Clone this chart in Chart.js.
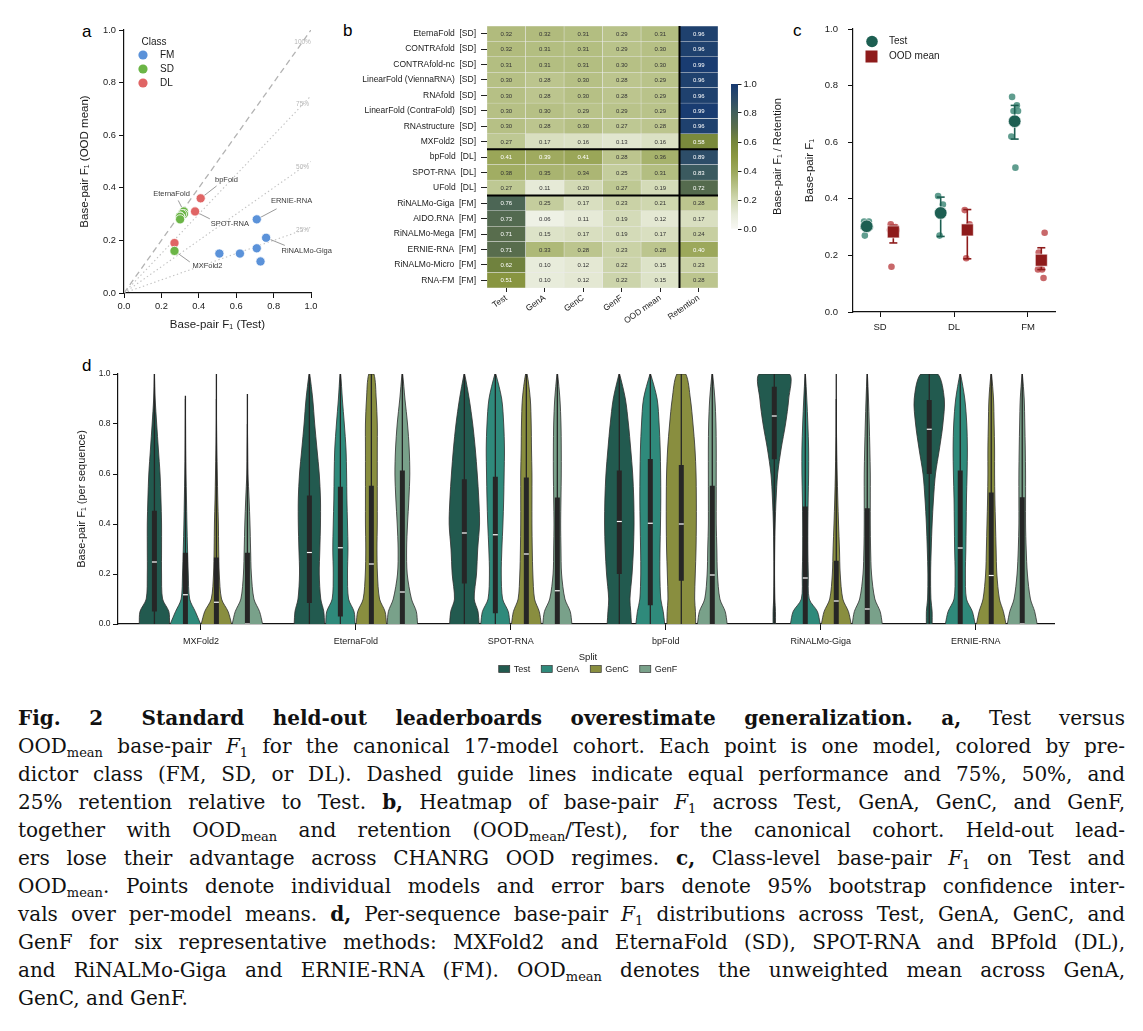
<!DOCTYPE html>
<html>
<head>
<meta charset="utf-8">
<title>Fig. 2</title>
<script src="https://cdn.jsdelivr.net/npm/chart.js@4.4.1/dist/chart.umd.min.js"></script>
<style>
  html, body { margin: 0; padding: 0; background: #fff; }
  body { position: relative; width: 1143px; height: 1031px; overflow: hidden; font-family: 'Liberation Sans', Arial, sans-serif; }
  canvas { position: absolute; }
  .tag { position: absolute; font-size: 17px; line-height: 17px; color: #000; }
  #caption { position: absolute; left: 18px; top: 704px; width: 1107px; font-family: 'DejaVu Serif', 'Liberation Serif', serif; font-size: 20px; line-height: 28px; color: #111; }
  #caption div { text-align: justify; text-align-last: justify; }
  #caption div.last { text-align-last: left; }
  #caption sub { font-size: 13px; line-height: 0; vertical-align: -4px; }
</style>
</head>
<body>
<div class="tag" style="left:82px;top:23px">a</div>
<div class="tag" style="left:343px;top:22px">b</div>
<div class="tag" style="left:793px;top:22px">c</div>
<div class="tag" style="left:82px;top:357px">d</div>

<div id="caption">
<div><b>Fig. 2&ensp; Standard held-out leaderboards overestimate generalization. a,</b> Test versus</div>
<div>OOD<sub>mean</sub> base-pair <i>F</i><sub>1</sub> for the canonical 17-model cohort. Each point is one model, colored by pre-</div>
<div>dictor class (FM, SD, or DL). Dashed guide lines indicate equal performance and 75%, 50%, and</div>
<div>25% retention relative to Test. <b>b,</b> Heatmap of base-pair <i>F</i><sub>1</sub> across Test, GenA, GenC, and GenF,</div>
<div>together with OOD<sub>mean</sub> and retention (OOD<sub>mean</sub>/Test), for the canonical cohort. Held-out lead-</div>
<div>ers lose their advantage across CHANRG OOD regimes. <b>c,</b> Class-level base-pair <i>F</i><sub>1</sub> on Test and</div>
<div>OOD<sub>mean</sub>. Points denote individual models and error bars denote 95% bootstrap confidence inter-</div>
<div>vals over per-model means. <b>d,</b> Per-sequence base-pair <i>F</i><sub>1</sub> distributions across Test, GenA, GenC, and</div>
<div>GenF for six representative methods: MXFold2 and EternaFold (SD), SPOT-RNA and BPfold (DL),</div>
<div>and RiNALMo-Giga and ERNIE-RNA (FM). OOD<sub>mean</sub> denotes the unweighted mean across GenA,</div>
<div class="last">GenC, and GenF.</div>
</div>

<script>
// ---- data: per-model scores (heatmap b, scatter a, points in c) ----
const modelNames = ['EternaFold', 'CONTRAfold', 'CONTRAfold-nc', 'LinearFold (ViennaRNA)', 'RNAfold',
  'LinearFold (ContraFold)', 'RNAstructure', 'MXFold2', 'bpFold', 'SPOT-RNA', 'UFold',
  'RiNALMo-Giga', 'AIDO.RNA', 'RiNALMo-Mega', 'ERNIE-RNA', 'RiNALMo-Micro', 'RNA-FM'];
const modelClass = ['SD', 'SD', 'SD', 'SD', 'SD', 'SD', 'SD', 'SD', 'DL', 'DL', 'DL', 'FM', 'FM', 'FM', 'FM', 'FM', 'FM'];
const testF1 =    [0.32, 0.32, 0.31, 0.30, 0.30, 0.30, 0.30, 0.27, 0.41, 0.38, 0.27, 0.76, 0.73, 0.71, 0.71, 0.62, 0.51];
const genA =      [0.32, 0.31, 0.31, 0.28, 0.28, 0.30, 0.28, 0.17, 0.39, 0.35, 0.11, 0.25, 0.06, 0.15, 0.33, 0.10, 0.10];
const genC =      [0.31, 0.31, 0.31, 0.30, 0.30, 0.29, 0.30, 0.16, 0.41, 0.34, 0.20, 0.17, 0.11, 0.17, 0.28, 0.12, 0.12];
const genF =      [0.29, 0.29, 0.30, 0.28, 0.28, 0.29, 0.27, 0.13, 0.28, 0.25, 0.27, 0.23, 0.19, 0.19, 0.23, 0.22, 0.22];
const oodMean =   [0.31, 0.30, 0.30, 0.29, 0.29, 0.29, 0.28, 0.16, 0.36, 0.31, 0.19, 0.21, 0.12, 0.17, 0.28, 0.15, 0.15];
const retention = [0.96, 0.96, 0.99, 0.96, 0.96, 0.99, 0.96, 0.58, 0.89, 0.83, 0.72, 0.28, 0.17, 0.24, 0.40, 0.23, 0.28];
const heatColumns = ['Test', 'GenA', 'GenC', 'GenF', 'OOD mean', 'Retention'];

// panel a
const classes = ['FM', 'SD', 'DL'];
const labelledModels = ['bpFold', 'EternaFold', 'SPOT-RNA', 'ERNIE-RNA', 'RiNALMo-Giga', 'MXFold2'];
const retentionGuides = [1, 0.75, 0.5, 0.25];
const unitTicks = [0, 0.2, 0.4, 0.6, 0.8, 1.0];

// panel c: class means with 95% CI
const classOrder = ['SD', 'DL', 'FM'];
const testClassMean = [0.303, 0.350, 0.674];
const testCiLow =     [0.296, 0.267, 0.611];
const testCiHigh =    [0.312, 0.406, 0.730];
const oodClassMean =  [0.283, 0.290, 0.183];
const oodCiLow =      [0.244, 0.188, 0.150];
const oodCiHigh =     [0.305, 0.362, 0.227];

// panel d: violin half-widths (relative) at each F1 level, box stats [low, q1, median, q3, high]
const violinMethods = ['MXFold2', 'EternaFold', 'SPOT-RNA', 'bpFold', 'RiNALMo-Giga', 'ERNIE-RNA'];
const splits = ['Test', 'GenA', 'GenC', 'GenF'];
const densityLevels = [0, 0.05, 0.1, 0.2, 0.3, 0.4, 0.5, 0.6, 0.7, 0.8, 0.9, 1.0];

const mxfold2Width = [
  [1.0, 0.95, 0.54, 0.47, 0.47, 0.47, 0.43, 0.37, 0.26, 0.15, 0.05, 0],
  [1.0, 0.65, 0.28, 0.19, 0.14, 0.10, 0.07, 0.04, 0.02, 0.01, 0, 0],
  [1.0, 0.77, 0.34, 0.19, 0.15, 0.13, 0.09, 0.06, 0.03, 0.01, 0, 0],
  [1.0, 0.80, 0.43, 0.26, 0.21, 0.17, 0.11, 0.04, 0.02, 0, 0, 0]
];
const eternafoldWidth = [
  [1.0, 0.95, 0.75, 0.65, 0.69, 0.73, 0.73, 0.65, 0.50, 0.35, 0.22, 0.02],
  [0.97, 0.90, 0.54, 0.47, 0.50, 0.47, 0.43, 0.41, 0.37, 0.26, 0.13, 0.02],
  [1.0, 0.90, 0.54, 0.40, 0.37, 0.39, 0.39, 0.39, 0.39, 0.39, 0.32, 0.17],
  [1.0, 0.92, 0.60, 0.32, 0.28, 0.34, 0.43, 0.49, 0.45, 0.34, 0.17, 0.02]
];
const spotRnaWidth = [
  [0.97, 0.90, 0.65, 0.80, 0.88, 1.0, 0.95, 0.85, 0.72, 0.55, 0.32, 0.02],
  [0.96, 0.85, 0.48, 0.39, 0.43, 0.50, 0.55, 0.58, 0.60, 0.55, 0.42, 0.03],
  [0.98, 0.85, 0.54, 0.43, 0.39, 0.37, 0.37, 0.37, 0.34, 0.32, 0.26, 0.05],
  [0.96, 0.85, 0.50, 0.28, 0.24, 0.22, 0.24, 0.26, 0.26, 0.24, 0.17, 0.02]
];
const bpfoldWidth = [
  [0.80, 0.75, 0.70, 0.84, 0.93, 0.97, 0.95, 0.88, 0.75, 0.60, 0.40, 0.02],
  [0.95, 0.85, 0.69, 0.63, 0.64, 0.67, 0.69, 0.68, 0.65, 0.58, 0.45, 0.02],
  [0.95, 0.93, 0.88, 0.92, 0.97, 0.99, 0.99, 0.97, 0.90, 0.77, 0.60, 0.29],
  [0.98, 0.85, 0.50, 0.34, 0.30, 0.26, 0.26, 0.26, 0.26, 0.24, 0.17, 0.02]
];
const rinalmoGigaWidth = [
  [0.08, 0.08, 0.04, 0.02, 0.03, 0.06, 0.12, 0.22, 0.45, 0.74, 0.95, 1.0],
  [0.98, 0.80, 0.26, 0.20, 0.17, 0.17, 0.19, 0.22, 0.22, 0.17, 0.10, 0.01],
  [0.98, 0.80, 0.43, 0.26, 0.21, 0.15, 0.10, 0.06, 0.03, 0.01, 0, 0],
  [0.99, 0.85, 0.50, 0.28, 0.22, 0.20, 0.20, 0.20, 0.17, 0.13, 0.08, 0.01]
];
const ernieRnaWidth = [
  [0.19, 0.19, 0.11, 0.09, 0.13, 0.19, 0.28, 0.41, 0.67, 0.90, 0.99, 0.56],
  [0.98, 0.80, 0.41, 0.34, 0.37, 0.39, 0.41, 0.45, 0.47, 0.43, 0.30, 0.02],
  [0.97, 0.80, 0.54, 0.37, 0.32, 0.28, 0.24, 0.22, 0.22, 0.19, 0.15, 0.02],
  [0.98, 0.82, 0.54, 0.34, 0.26, 0.22, 0.22, 0.22, 0.20, 0.17, 0.13, 0.01]
];

const mxfold2Box =     [[0, 0.050, 0.248, 0.453, 1.0], [0, 0, 0.117, 0.285, 0.913], [0, 0, 0.087, 0.266, 1.0], [0, 0, 0.0, 0.285, 0.92]];
const eternafoldBox =  [[0, 0.084, 0.286, 0.514, 1.0], [0, 0.030, 0.305, 0.549, 1.0], [0, 0, 0.240, 0.553, 1.0], [0, 0, 0.128, 0.614, 1.0]];
const spotRnaBox =     [[0, 0.162, 0.364, 0.579, 1.0], [0, 0.043, 0.357, 0.589, 1.0], [0, 0, 0.280, 0.586, 1.0], [0, 0, 0.133, 0.506, 1.0]];
const bpfoldBox =      [[0, 0.200, 0.410, 0.614, 1.0], [0, 0.075, 0.403, 0.660, 1.0], [0, 0.173, 0.400, 0.636, 1.0], [0, 0, 0.196, 0.553, 1.0]];
const rinalmoGigaBox = [[0, 0.659, 0.832, 0.949, 1.0], [0, 0, 0.184, 0.470, 1.0], [0, 0, 0.092, 0.253, 1.0], [0, 0, 0.060, 0.463, 1.0]];
const ernieRnaBox =    [[0, 0.600, 0.779, 0.896, 1.0], [0, 0, 0.304, 0.614, 1.0], [0, 0, 0.194, 0.526, 1.0], [0, 0, 0.0, 0.507, 1.0]];

// ---- styling helpers ----
const FONT = "'Liberation Sans', Arial, Helvetica, sans-serif";
Chart.defaults.font.family = FONT;
Chart.defaults.color = '#1a1a1a';

const cmapStops = [[0, '#f8f8f4'], [0.1, '#e8ecdb'], [0.2, '#d2d9b4'], [0.3, '#b6c085'], [0.4, '#9ca85b'],
  [0.5, '#8a9740'], [0.6, '#76873b'], [0.7, '#5a6e4b'], [0.8, '#42605b'], [0.9, '#2b4b69'], [1.0, '#173a72']];
const hexRgb = h => [1, 3, 5].map(i => parseInt(h.slice(i, i + 2), 16));
function cmap(v) {
  v = Math.max(0, Math.min(1, v));
  for (let i = 1; i < cmapStops.length; i++) {
    if (v <= cmapStops[i][0]) {
      const [v0, c0] = cmapStops[i - 1], [v1, c1] = cmapStops[i];
      const t = (v - v0) / (v1 - v0), a = hexRgb(c0), b = hexRgb(c1);
      return 'rgb(' + a.map((x, k) => Math.round(x + (b[k] - x) * t)).join(',') + ')';
    }
  }
  return cmapStops[cmapStops.length - 1][1];
}

function makeCanvas(left, top, w, h) {
  const c = document.createElement('canvas');
  c.width = w; c.height = h;
  c.style.left = left + 'px'; c.style.top = top + 'px';
  c.style.width = w + 'px'; c.style.height = h + 'px';
  document.body.appendChild(c);
  return c;
}

const fixedSize = px => axis => { if (axis.isHorizontal()) axis.height = px; else axis.width = px; };

function numAxis(o) {
  return {
    type: 'linear', min: o.min, max: o.max, position: o.position,
    afterBuildTicks: ax => { ax.ticks = o.ticks.map(v => ({value: v})); },
    ticks: {
      font: {size: o.font}, padding: o.pad, color: '#1a1a1a', autoSkip: false, maxRotation: 0,
      callback: o.labels ? (v, i) => o.labels[i] : v => v.toFixed(1)
    },
    grid: {drawOnChartArea: false, tickLength: o.tick || 5, color: '#111', lineWidth: 1},
    border: {color: '#111', width: 1.2},
    title: o.title ? {display: true, text: o.title, font: {size: o.titleSize}, padding: 0, color: '#1a1a1a'} : {display: false},
    afterFit: fixedSize(o.size)
  };
}

const baseOpts = {responsive: false, animation: false, devicePixelRatio: 1,
  plugins: {legend: {display: false}, tooltip: {enabled: false}}};

// ================= panel a =================
const classColor = {FM: '#5b92d9', SD: '#6bb546', DL: '#e06565'};
// label text centre, then end of leader line (data units)
const labelSpots = {
  'bpFold': [0.548, 0.43, 0.495, 0.407],
  'EternaFold': [0.254, 0.375, 0.29, 0.352],
  'SPOT-RNA': [0.566, 0.263, 0.459, 0.282],
  'ERNIE-RNA': [0.896, 0.349, 0.816, 0.32],
  'RiNALMo-Giga': [0.977, 0.159, 0.86, 0.181],
  'MXFold2': [0.446, 0.101, 0.352, 0.118]
};

const guideSets = retentionGuides.map(r => ({
  data: [{x: 0, y: 0}, {x: 1, y: r}], showLine: true, pointRadius: 0, order: 3,
  borderColor: r === 1 ? '#b3b3b3' : '#c2c2c2', borderWidth: r === 1 ? 1.3 : 1.1,
  borderDash: r === 1 ? [6, 4] : [1.4, 2.6]
}));
const leaderSets = labelledModels.map(name => {
  const i = modelNames.indexOf(name), s = labelSpots[name];
  return {data: [{x: testF1[i], y: oodMean[i]}, {x: s[2], y: s[3]}], showLine: true,
    borderColor: '#808080', borderWidth: 0.8, pointRadius: 0, order: 2};
});
const classSets = classes.map(c => ({
  label: c,
  data: modelNames.map((n, i) => modelClass[i] === c ? {x: testF1[i], y: oodMean[i]} : null).filter(Boolean),
  backgroundColor: classColor[c], borderColor: '#ffffff', borderWidth: 0.8, pointRadius: 4.6, order: 1
}));

const scatterNotes = {
  id: 'scatterNotes',
  afterDatasetsDraw(chart) {
    const {ctx, chartArea: a, scales: {x, y}} = chart;
    ctx.save();
    ctx.textAlign = 'center'; ctx.textBaseline = 'middle';
    ctx.font = '6.5px ' + FONT; ctx.fillStyle = '#b5b5b5';
    retentionGuides.forEach(r => ctx.fillText(Math.round(r * 100) + '%', x.getPixelForValue(0.955), y.getPixelForValue(0.955 * r)));
    ctx.font = '7.5px ' + FONT; ctx.fillStyle = '#3a3a3a';
    labelledModels.forEach(n => ctx.fillText(n, x.getPixelForValue(labelSpots[n][0]), y.getPixelForValue(labelSpots[n][1])));
    // legend
    ctx.textAlign = 'left';
    ctx.font = '10px ' + FONT; ctx.fillStyle = '#1a1a1a';
    ctx.fillText('Class', a.left + 17.5, a.top + 12);
    classes.forEach((c, k) => {
      const yy = a.top + 25 + k * 14;
      ctx.beginPath(); ctx.arc(a.left + 19, yy, 4.6, 0, Math.PI * 2);
      ctx.fillStyle = classColor[c]; ctx.fill();
      ctx.fillStyle = '#1a1a1a'; ctx.fillText(c, a.left + 36, yy + 0.5);
    });
    ctx.restore();
  }
};

new Chart(makeCanvas(60, 10, 300, 330), {
  type: 'scatter',
  data: {datasets: [...classSets, ...leaderSets, ...guideSets]},
  options: {
    ...baseOpts,
    layout: {padding: {top: 20, left: 18, right: 49, bottom: 8}},
    scales: {
      x: numAxis({min: 0, max: 1, ticks: unitTicks, font: 9.3, pad: 3, size: 39, title: 'Base-pair F\u2081 (Test)', titleSize: 11.5}),
      y: numAxis({min: 0, max: 1, ticks: unitTicks, font: 9.3, pad: 3, size: 46, title: 'Base-pair F\u2081 (OOD mean)', titleSize: 11.5})
    }
  },
  plugins: [scatterNotes]
});

// ================= panel b (heatmap) =================
const heatData = [testF1, genA, genC, genF, oodMean, retention];

const heatOverlay = {
  id: 'heatOverlay',
  afterDatasetsDraw(chart) {
    const {ctx, chartArea: a, scales: {x, y}} = chart;
    ctx.save();
    ctx.font = '6px ' + FONT; ctx.textAlign = 'center'; ctx.textBaseline = 'middle';
    heatData.forEach((col, c) => {
      chart.getDatasetMeta(c).data.forEach((bar, r) => {
        const p = bar.getCenterPoint();
        ctx.fillStyle = col[r] >= 0.385 ? '#ffffff' : '#333333';
        ctx.fillText(col[r].toFixed(2), p.x, p.y + 0.5);
      });
    });
    ctx.strokeStyle = '#000'; ctx.lineWidth = 2;
    for (let r = 1; r < modelClass.length; r++) {
      if (modelClass[r] !== modelClass[r - 1]) {
        const yy = (y.getPixelForValue(r - 1) + y.getPixelForValue(r)) / 2;
        ctx.beginPath(); ctx.moveTo(a.left, yy); ctx.lineTo(a.right, yy); ctx.stroke();
      }
    }
    const xx = x.getPixelForValue(5);
    ctx.beginPath(); ctx.moveTo(xx, a.top); ctx.lineTo(xx, a.bottom); ctx.stroke();
    ctx.restore();
  }
};

new Chart(makeCanvas(340, 10, 400, 330), {
  type: 'bar',
  data: {
    labels: modelNames.map((n, i) => n + '  [' + modelClass[i] + ']'),
    datasets: heatData.map((col, c) => ({
      data: col.map(() => [c, c + 1]),
      backgroundColor: ctx => cmap(col[ctx.dataIndex]),
      borderColor: '#ebebeb', borderWidth: 0.5, borderSkipped: false,
      barPercentage: 1, categoryPercentage: 1, grouped: false
    }))
  },
  options: {
    ...baseOpts,
    indexAxis: 'y',
    layout: {padding: {top: 16, left: 0, right: 22, bottom: 4}},
    scales: {
      x: {
        type: 'linear', min: 0, max: 6,
        afterBuildTicks: ax => { ax.ticks = heatColumns.map((_, i) => ({value: i + 0.5})); },
        ticks: {callback: (v, i) => heatColumns[i], maxRotation: 35, minRotation: 35, autoSkip: false, font: {size: 8.5}, padding: 1, color: '#1a1a1a'},
        grid: {drawOnChartArea: false, tickLength: 4, color: '#222'},
        border: {display: false},
        afterFit: fixedSize(48)
      },
      y: {
        ticks: {font: {size: 8.5}, padding: 5, autoSkip: false, color: '#1a1a1a'},
        grid: {drawOnChartArea: false, offset: false, tickLength: 6, color: '#222'},
        border: {display: false},
        afterFit: fixedSize(147)
      }
    }
  },
  plugins: [heatOverlay]
});

// colour bar
const cbLabel = {
  id: 'cbLabel',
  afterDraw(chart) {
    const {ctx, chartArea: a} = chart;
    ctx.save();
    ctx.translate(a.right + 40, (a.top + a.bottom) / 2);
    ctx.rotate(-Math.PI / 2);
    ctx.font = '11px ' + FONT; ctx.fillStyle = '#1a1a1a';
    ctx.textAlign = 'center'; ctx.textBaseline = 'middle';
    ctx.fillText('Base-pair F\u2081 / Retention', 0, 0);
    ctx.restore();
  }
};
new Chart(makeCanvas(700, 70, 110, 175), {
  type: 'bar',
  data: {
    labels: [''],
    datasets: [{
      data: [[0, 1]], borderWidth: 0, barPercentage: 1, categoryPercentage: 1,
      backgroundColor: ctx => {
        const a = ctx.chart.chartArea;
        if (!a) return '#888';
        const g = ctx.chart.ctx.createLinearGradient(0, a.bottom, 0, a.top);
        cmapStops.forEach(([v, c]) => g.addColorStop(v, c));
        return g;
      }
    }]
  },
  options: {
    ...baseOpts,
    layout: {padding: {top: 14, left: 31, right: 42, bottom: 16}},
    scales: {
      x: {display: false},
      y: {
        position: 'right', min: 0, max: 1,
        afterBuildTicks: ax => { ax.ticks = unitTicks.map(v => ({value: v})); },
        ticks: {font: {size: 9.5}, padding: 2, callback: v => v.toFixed(1), color: '#1a1a1a'},
        grid: {drawOnChartArea: false, tickLength: 3.5, color: '#222'},
        border: {display: false},
        afterFit: fixedSize(30)
      }
    }
  },
  plugins: [cbLabel]
});

// ================= panel c =================
const testColor = '#1d5f52', testPt = 'rgba(74,143,127,0.88)';
const oodColor = '#8e1b1b', oodPt = 'rgba(190,78,80,0.85)';
const jitter = [-0.035, 0.03, -0.015, 0.045, -0.045, 0.01, 0.035, -0.025];
const SHIFT = 0.18;

function classPoints(values, shift) {
  const seen = {SD: 0, DL: 0, FM: 0};
  return values.map((v, i) => {
    const c = modelClass[i], j = seen[c]++;
    return {x: classOrder.indexOf(c) + shift + jitter[j % jitter.length], y: v};
  });
}
function errBar(k, lo, hi, shift, color) {
  return {data: [{x: k + shift, y: lo}, {x: k + shift, y: hi}], showLine: true,
    borderColor: color, borderWidth: 1.6, pointStyle: 'line', pointRadius: 4,
    pointBorderColor: color, pointBorderWidth: 1.6, order: 1};
}

const classLegend = {
  id: 'classLegend',
  afterDraw(chart) {
    const {ctx, chartArea: a} = chart;
    ctx.save();
    ctx.beginPath(); ctx.arc(a.left + 19, a.top + 12.5, 5.8, 0, Math.PI * 2);
    ctx.fillStyle = testColor; ctx.fill();
    ctx.fillStyle = oodColor; ctx.fillRect(a.left + 12.5, a.top + 21.5, 12, 12);
    ctx.font = '10px ' + FONT; ctx.fillStyle = '#1a1a1a'; ctx.textBaseline = 'middle';
    ctx.fillText('Test', a.left + 36, a.top + 12.5);
    ctx.fillText('OOD mean', a.left + 36, a.top + 27.5);
    ctx.restore();
  }
};

new Chart(makeCanvas(780, 10, 300, 340), {
  type: 'scatter',
  data: {
    datasets: [
      {data: classOrder.map((c, k) => ({x: k - SHIFT, y: testClassMean[k]})), pointStyle: 'circle', pointRadius: 6.3,
        backgroundColor: testColor, borderColor: 'rgba(255,255,255,0.8)', borderWidth: 0.8, order: 0},
      {data: classOrder.map((c, k) => ({x: k + SHIFT, y: oodClassMean[k]})), pointStyle: 'rect', pointRadius: 8.5,
        backgroundColor: oodColor, borderColor: 'rgba(255,255,255,0.8)', borderWidth: 0.8, order: 0},
      ...classOrder.map((c, k) => errBar(k, testCiLow[k], testCiHigh[k], -SHIFT, testColor)),
      ...classOrder.map((c, k) => errBar(k, oodCiLow[k], oodCiHigh[k], SHIFT, oodColor)),
      {data: classPoints(testF1, -SHIFT), pointRadius: 3.3, backgroundColor: testPt, borderWidth: 0, order: 2},
      {data: classPoints(oodMean, SHIFT), pointRadius: 3.3, backgroundColor: oodPt, borderWidth: 0, order: 2}
    ]
  },
  options: {
    ...baseOpts,
    layout: {padding: {top: 19, left: 23, right: 25, bottom: 10}},
    scales: {
      x: numAxis({min: -0.365, max: 2.365, ticks: [0, 1, 2], labels: classOrder, font: 9.5, pad: 5, size: 28}),
      y: numAxis({min: 0, max: 1, ticks: unitTicks, font: 9.5, pad: 10, size: 50, title: 'Base-pair F\u2081', titleSize: 11.5})
    }
  },
  plugins: [classLegend]
});

// ================= panel d (violins) =================
const violinWidths = [mxfold2Width, eternafoldWidth, spotRnaWidth, bpfoldWidth, rinalmoGigaWidth, ernieRnaWidth];
const violinBoxes = [mxfold2Box, eternafoldBox, spotRnaBox, bpfoldBox, rinalmoGigaBox, ernieRnaBox];
const splitColors = ['#225a4f', '#2f8a7b', '#898e3f', '#79a18a'];
const HALF = 0.098, OFFSETS = [-0.3, -0.1, 0.1, 0.3];

function seg(x0, y0, x1, y1, color, width, order) {
  return {data: [{x: x0, y: y0}, {x: x1, y: y1}], showLine: true, borderColor: color,
    borderWidth: width, borderCapStyle: 'butt', pointRadius: 0, order};
}

const violinSets = [];
violinMethods.forEach((m, g) => {
  splits.forEach((s, k) => {
    const cx = g + OFFSETS[k], w = violinWidths[g][k];
    let top = w.length - 1;
    while (top > 0 && w[top] === 0 && w[top - 1] === 0) top--;
    const right = [], left = [];
    for (let j = 0; j <= top; j++) right.push({x: cx + w[j] * HALF, y: densityLevels[j]});
    for (let j = top; j >= 0; j--) left.push({x: cx - w[j] * HALF, y: densityLevels[j]});
    violinSets.push({label: s, data: right.concat(left), showLine: true, fill: 'shape',
      backgroundColor: splitColors[k], borderColor: '#2e2e2e', borderWidth: 0.8,
      pointRadius: 0, tension: 0.3, order: 4});
    const b = violinBoxes[g][k];
    violinSets.push(seg(cx, b[0], cx, b[4], '#262626', 1.3, 3));
    violinSets.push(seg(cx, b[1], cx, b[3], '#262626', 5, 2));
    violinSets.push(seg(cx - 0.016, b[2], cx + 0.016, b[2], '#ffffff', 1.2, 1));
  });
});

const splitLegend = {
  id: 'splitLegend',
  afterDraw(chart) {
    const {ctx, chartArea: a} = chart;
    const cx = (a.left + a.right) / 2 + 2, gap = 11;
    ctx.save();
    ctx.font = '9px ' + FONT; ctx.textBaseline = 'middle';
    const widths = splits.map(s => 15 + ctx.measureText(s).width);
    const total = widths.reduce((p, q) => p + q, 0) + gap * (splits.length - 1);
    ctx.font = '9.5px ' + FONT; ctx.fillStyle = '#1a1a1a'; ctx.textAlign = 'center';
    ctx.fillText('Split', cx, a.bottom + 33);
    ctx.font = '9px ' + FONT; ctx.textAlign = 'left';
    let xx = cx - total / 2;
    splits.forEach((s, k) => {
      const yy = a.bottom + 45;
      ctx.fillStyle = splitColors[k]; ctx.fillRect(xx, yy - 3.5, 11, 7);
      ctx.strokeStyle = '#333'; ctx.lineWidth = 0.7; ctx.strokeRect(xx, yy - 3.5, 11, 7);
      ctx.fillStyle = '#1a1a1a'; ctx.fillText(s, xx + 15, yy + 0.5);
      xx += widths[k] + gap;
    });
    ctx.restore();
  }
};

new Chart(makeCanvas(60, 355, 1020, 330), {
  type: 'scatter',
  data: {datasets: violinSets},
  options: {
    ...baseOpts,
    layout: {padding: {top: 19, left: 15, right: 26, bottom: 35}},
    scales: {
      x: numAxis({min: -0.535, max: 5.505, ticks: [0, 1, 2, 3, 4, 5], labels: violinMethods, font: 9, pad: 6, tick: 6, size: 26}),
      y: numAxis({min: 0, max: 1, ticks: unitTicks, font: 8.5, pad: 2.5, size: 43, title: 'Base-pair F\u2081 (per sequence)', titleSize: 11})
    }
  },
  plugins: [splitLegend]
});
</script>
</body>
</html>
